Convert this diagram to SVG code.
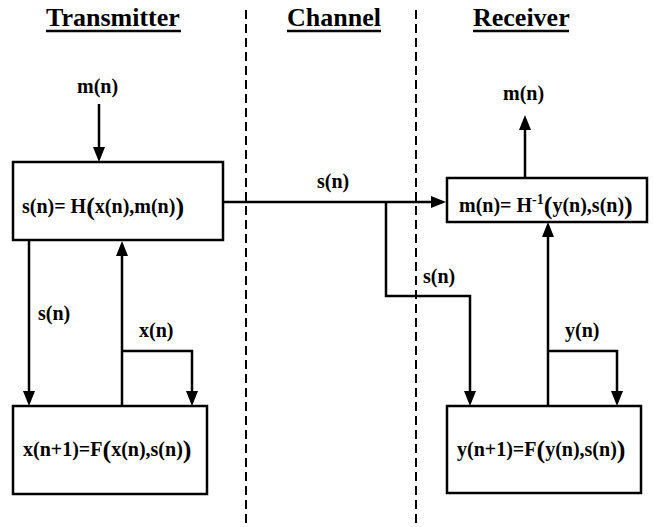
<svg xmlns="http://www.w3.org/2000/svg" width="654" height="527" viewBox="0 0 654 527">
<style>
text{font-family:'Liberation Serif','Times New Roman',Times,serif;font-weight:bold;fill:#000}
.t{font-size:26px}
.l{font-size:20px}
.bp{font-size:26px}
.box{fill:#fff;stroke:#000;stroke-width:2.5}
.c{fill:none;stroke:#000;stroke-width:2.5}
.d{fill:none;stroke:#000;stroke-width:2;stroke-dasharray:9 5}
.u{stroke:#000;stroke-width:2.5}
</style>
<defs>
<marker id="ah" viewBox="0 0 15 12" refX="11" refY="6" markerWidth="15" markerHeight="12" markerUnits="userSpaceOnUse" orient="auto">
<path d="M0,0 L15,6 L0,12 z" fill="#000"/>
</marker>
</defs>
<g id="titles">
<text class="t" x="46" y="26">Transmitter</text>
<line class="u" x1="46" y1="31" x2="181" y2="31"/>
<text class="t" x="287" y="26">Channel</text>
<line class="u" x1="287" y1="31" x2="381" y2="31"/>
<text class="t" x="473" y="26">Receiver</text>
<line class="u" x1="473" y1="31" x2="569" y2="31"/>
</g>
<g id="dividers">
<line class="d" x1="246" y1="10" x2="246" y2="527"/>
<line class="d" x1="416" y1="10" x2="416" y2="527"/>
</g>
<g id="connectors">
<path class="c" d="M99,104 V158" marker-end="url(#ah)"/>
<path class="c" d="M525,178 V119" marker-end="url(#ah)"/>
<path class="c" d="M223,202 H442" marker-end="url(#ah)"/>
<path class="c" d="M386,202 V296 H470 V402" marker-end="url(#ah)"/>
<path class="c" d="M29,241 V402" marker-end="url(#ah)"/>
<path class="c" d="M122,406 V245" marker-end="url(#ah)"/>
<path class="c" d="M122,351 H192 V402" marker-end="url(#ah)"/>
<path class="c" d="M548,406 V226" marker-end="url(#ah)"/>
<path class="c" d="M548,351 H617 V402" marker-end="url(#ah)"/>
</g>
<g id="labels">
<text class="l" x="77" y="93">m(n)</text>
<text class="l" x="503" y="100">m(n)</text>
<text class="l" x="317" y="188">s(n)</text>
<text class="l" x="423" y="283">s(n)</text>
<text class="l" x="38" y="320">s(n)</text>
<text class="l" x="139" y="337">x(n)</text>
<text class="l" x="565" y="337">y(n)</text>
</g>
<g id="encoder">
<rect class="box" x="13" y="162" width="210" height="78"/>
<text class="l" x="22" y="213">s(n)= H<tspan class="bp" dy="1.5">(</tspan><tspan dy="-1.5">x(n),m(n)</tspan><tspan class="bp" dy="1.5">)</tspan></text>
</g>
<g id="decoder">
<rect class="box" x="447" y="178" width="200" height="44"/>
<text class="l" x="459" y="212">m(n)= H<tspan font-size="14" dy="-8">-1</tspan><tspan class="bp" dy="9.5">(</tspan><tspan dy="-1.5">y(n),s(n)</tspan><tspan class="bp" dy="1.5">)</tspan></text>
</g>
<g id="tx-state">
<rect class="box" x="13" y="406" width="194" height="88"/>
<text class="l" x="23" y="456">x(n+1)=F<tspan class="bp" dy="1.5">(</tspan><tspan dy="-1.5">x(n),s(n)</tspan><tspan class="bp" dy="1.5">)</tspan></text>
</g>
<g id="rx-state">
<rect class="box" x="447" y="406" width="194" height="87"/>
<text class="l" x="457" y="456">y(n+1)=F<tspan class="bp" dy="1.5">(</tspan><tspan dy="-1.5">y(n),s(n)</tspan><tspan class="bp" dy="1.5">)</tspan></text>
</g>
</svg>
